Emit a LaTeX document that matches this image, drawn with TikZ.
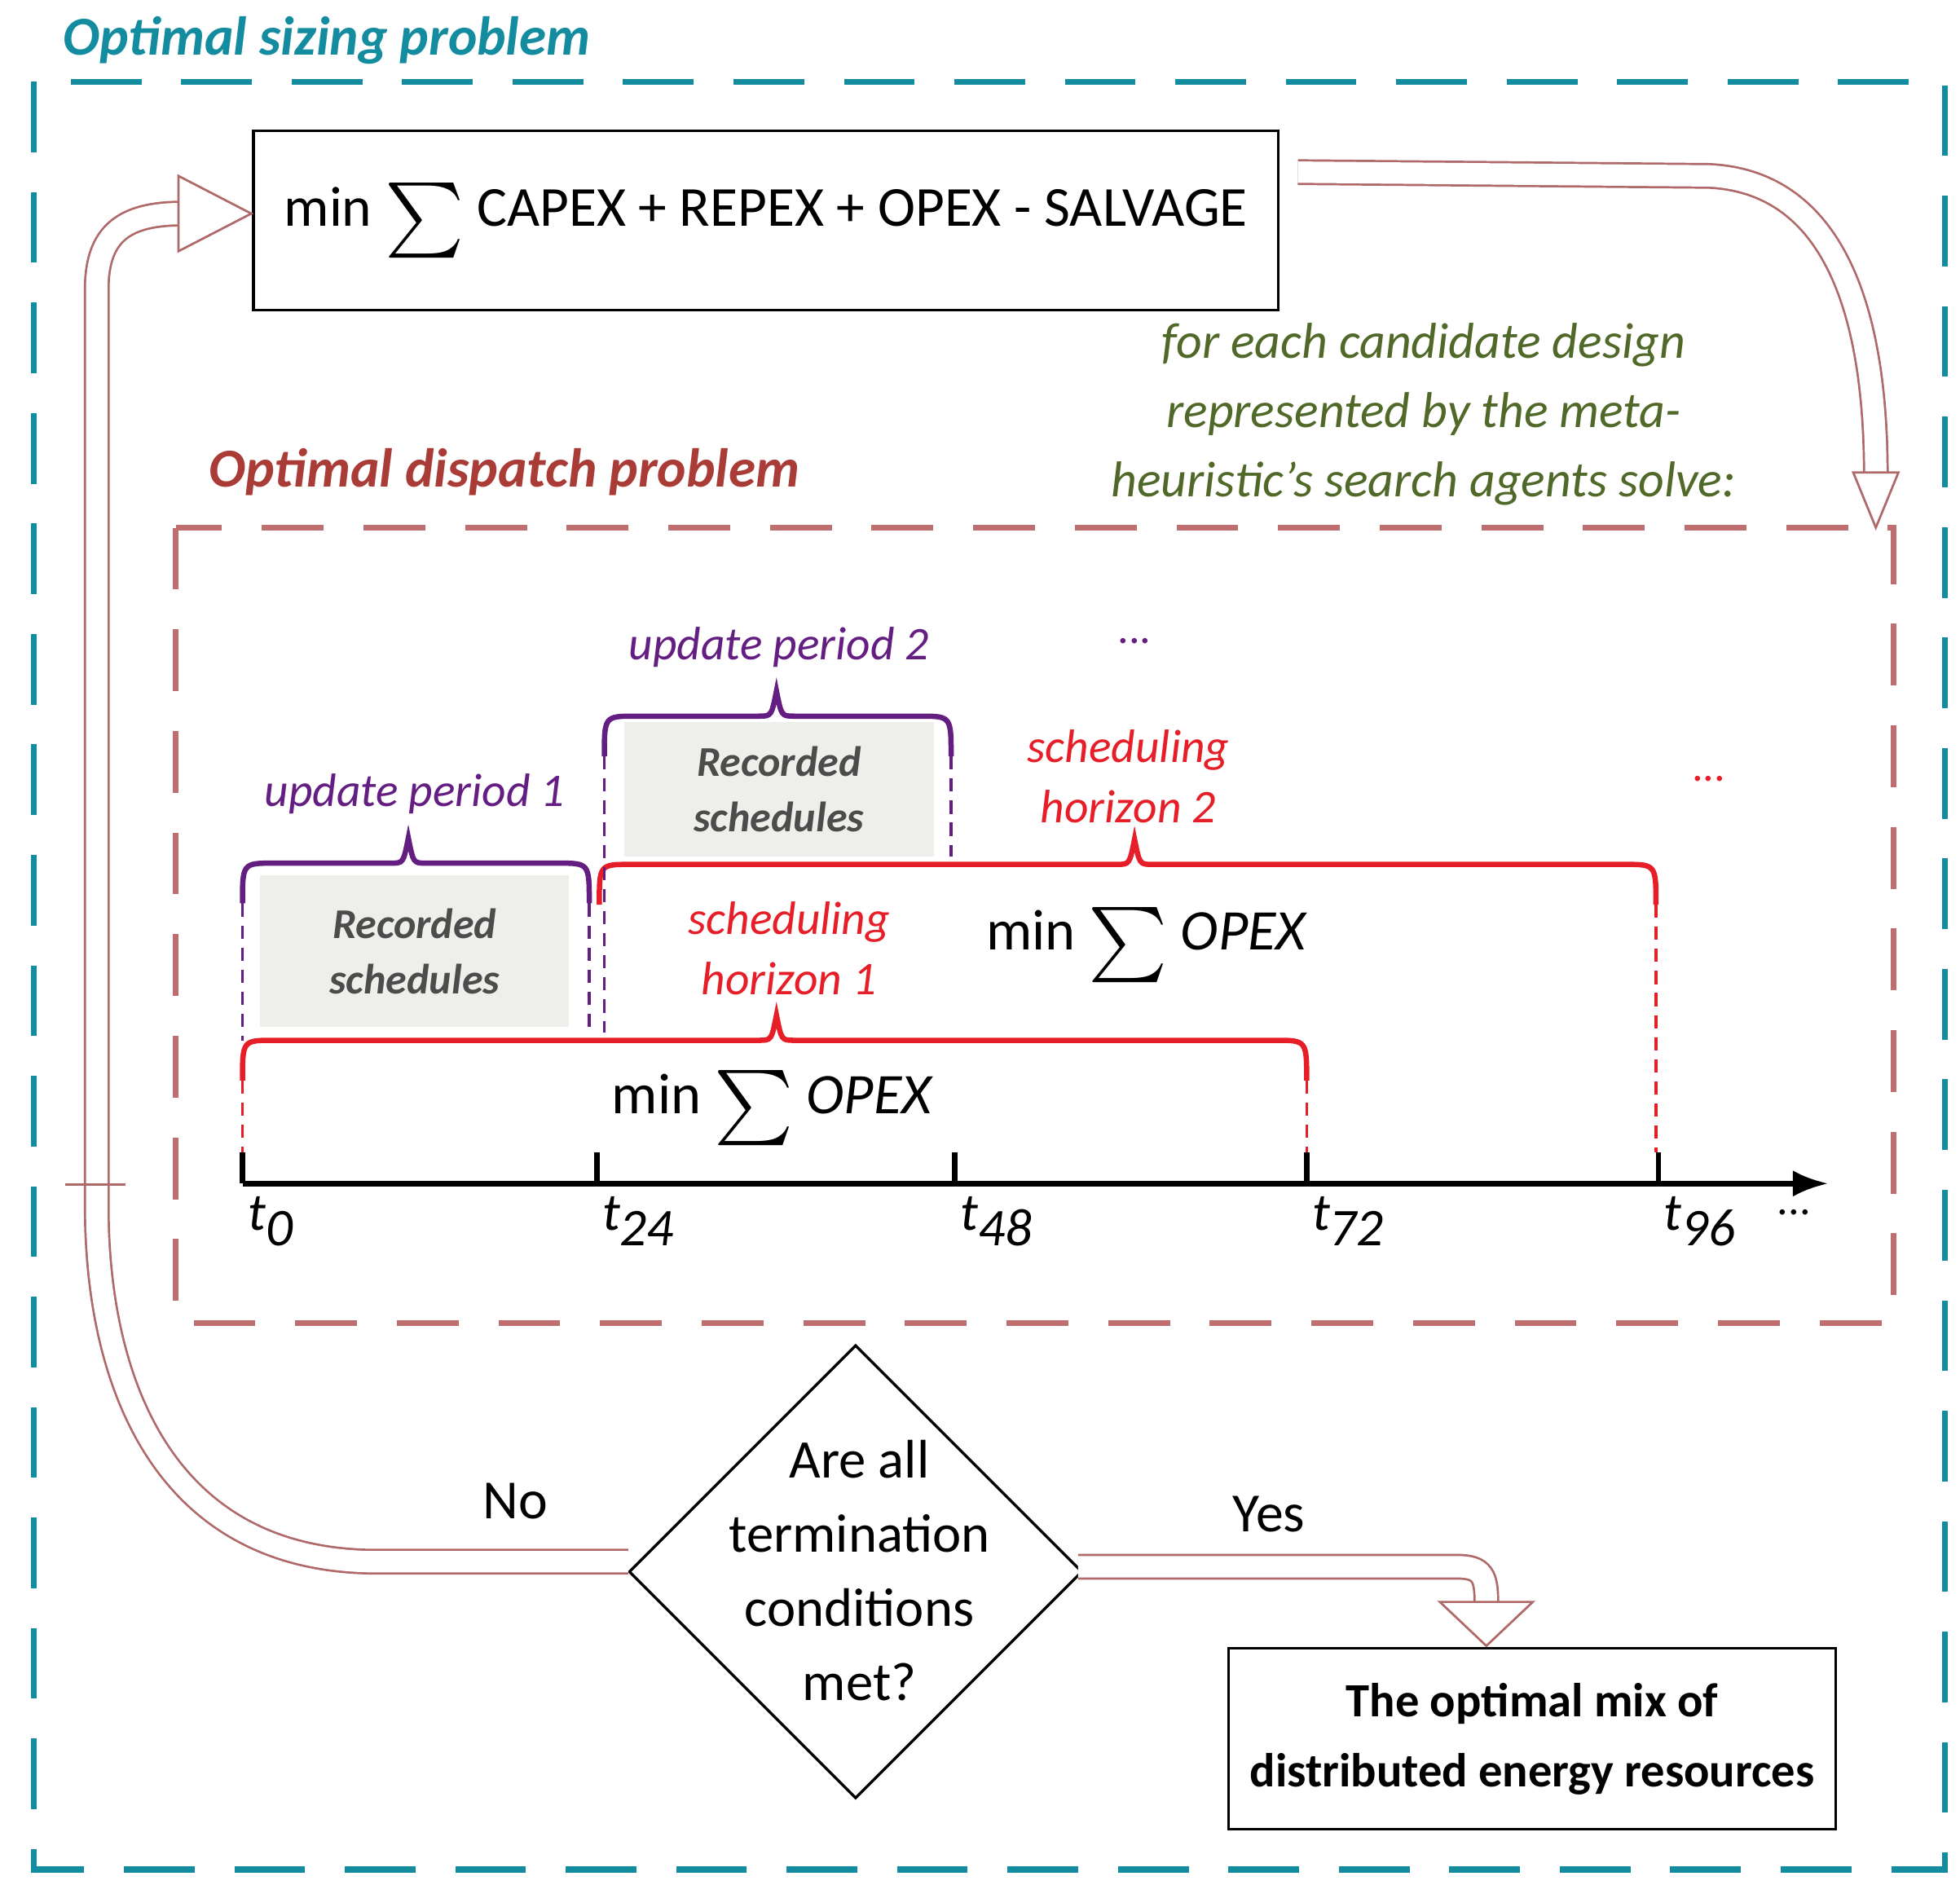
\documentclass[tikz,border=0pt]{standalone}
\usepackage{fontspec}
\setmainfont{Carlito}
\usetikzlibrary{arrows.meta}
\definecolor{teal1}{RGB}{20,140,160}
\definecolor{brn}{RGB}{170,60,55}
\definecolor{dbox}{RGB}{190,110,110}
\definecolor{grn}{RGB}{80,105,40}
\definecolor{pur}{RGB}{100,30,130}
\definecolor{rd}{RGB}{230,30,40}
\definecolor{arr}{RGB}{175,105,105}
\definecolor{gbox}{RGB}{238,238,235}
\newcommand{\bigsig}{\raisebox{-0.3em}{\scalebox{1.7}{$\sum$}}}
\begin{document}
\begin{tikzpicture}[x=0.01cm,y=-0.01cm,
  f/.style={font=\fontsize{#1pt}{\dimexpr#1pt*6/5\relax}\selectfont},
  fbi/.style={font=\fontsize{#1pt}{\dimexpr#1pt*6/5\relax}\selectfont\bfseries\itshape},
  fi/.style={font=\fontsize{#1pt}{\dimexpr#1pt*6/5\relax}\selectfont\itshape},
  fb/.style={font=\fontsize{#1pt}{\dimexpr#1pt*6/5\relax}\selectfont\bfseries},
  hollow/.style={draw=arr,line width=0.5pt,double=white,double distance=0.17cm},
  head/.style={draw=arr,line width=0.5pt,fill=white},
  brace/.style={line width=1.2pt},
  pdash/.style={pur,densely dashed,line width=0.6pt},
  rdash/.style={rd,densely dashed,line width=0.6pt},
  gb/.style={fill=gbox,draw=none,align=center,text=black!70,fbi=9.6}]
\useasboundingbox (0,0) rectangle (1560,1500);
% outer
\node[fbi=12.4,teal1,anchor=west] (t1) at (38,32) {Optimal sizing problem};
\draw[teal1,line width=1.3pt,dash pattern=on 16pt off 9pt] (27,65) rectangle (1548,1488);
\node[draw,line width=0.6pt,minimum width=8.15cm,minimum height=1.43cm,f=12.8] (top) at (609.5,175.5) {min \bigsig\ CAPEX + REPEX + OPEX - SALVAGE};
% arrow to dispatch
\draw[hollow] (1033,137) -- (1360,140) .. controls (1470,145) and (1493,270) .. (1493,378);
\draw[head] (1475,376) -- (1511,376) -- (1493,420) -- cycle;
\node[fi=11.4,grn,align=center] (g) at (1133,330) {for each candidate design\\[2pt]represented by the meta-\\[2pt]heuristic’s search agents solve:};
% dispatch
\node[fbi=12.4,brn,anchor=west] (t2) at (154,376) {Optimal dispatch problem};
\draw[dbox,line width=1.3pt,dash pattern=on 14pt off 9pt] (140,420) rectangle (1507,1053);
% grey boxes
\node[gb,minimum width=2.46cm,minimum height=1.21cm] (r1) at (330,757) {Recorded\\[1pt]schedules};
\node[gb,minimum width=2.46cm,minimum height=1.07cm] (r2) at (620,628) {Recorded\\[1pt]schedules};
% axis
\coordinate (a0) at (193,942); \coordinate (a1) at (1455,942);
\draw[line width=1.2pt,-{Latex[length=8pt]}] (a0) -- (a1);
\foreach \x/\l in {193/0,475/24,760/48,1040/72,1320/96}{
  \draw[line width=1.2pt] (\x,942) -- (\x,917);
  \node[fi=12,anchor=west] at (\x-8,972) {t\raisebox{-0.6ex}{\l}};}
\node[f=10] (d0) at (1428,965) {...};
% red braces
\def\brc#1#2#3#4{ % x1 x2 ybar tipx
  (#1,#3+32) .. controls (#1,#3) .. (#1+25,#3) -- (#4-14,#3) .. controls (#4-4,#3) .. (#4,#3-20) .. controls (#4+4,#3) .. (#4+14,#3) -- (#2-25,#3) .. controls (#2,#3) .. (#2,#3+32)}
\draw[rd,brace] \brc{193}{1040}{828}{618};
\draw[rd,brace] \brc{477}{1318}{688}{903};
\draw[rdash] (193,860) -- (193,917); \draw[rdash] (1040,860) -- (1040,917); \draw[rdash] (1318,720) -- (1318,917);
% purple braces
\draw[pur,brace] \brc{193}{469}{687}{325};
\draw[pur,brace] \brc{481}{757}{570}{618};
\draw[pdash] (193,719) -- (193,828); \draw[pdash] (469,719) -- (469,822);
\draw[pdash] (481,602) -- (481,822); \draw[pdash] (757,602) -- (757,682);
\node[fi=10.6,pur] (u1) at (330,632) {update period 1};
\node[fi=10.6,pur] (u2) at (620,515) {update period 2};
\node[f=10,pur] (d1) at (903,510) {...};
\node[fi=10.6,rd,align=center] (s1) at (628,755) {scheduling\\[1pt]horizon 1};
\node[fi=10.6,rd,align=center] (s2) at (898,618) {scheduling\\[1pt]horizon 2};
\node[f=10,rd] (d2) at (1360,620) {...};
\node[f=13] (m2) at (913,752) {min \bigsig\ \textit{OPEX}};
\node[f=13] (m1) at (615,882) {min \bigsig\ \textit{OPEX}};
% diamond
\draw[line width=0.6pt] (681,1071) -- (861,1251) -- (681,1431) -- (501,1251) -- cycle;
\node[f=12.3,align=center] (q) at (684,1250) {Are all\\[2pt]termination\\[2pt]conditions\\[2pt]met?};
% No arrow
\draw[hollow] (500,1243) -- (300,1243) .. controls (130,1243) and (77,1100) .. (77,960) -- (77,230) .. controls (77,185) and (100,170) .. (145,170);
\draw[arr,line width=0.5pt] (52,943) -- (100,943);
\draw[head] (142,140) -- (200,170) -- (142,200) -- cycle;
\node[f=12.5] (no) at (410,1195) {No};
\node[f=12.5] (yes) at (1010,1205) {Yes};
% Yes arrow
\draw[hollow] (858,1247) -- (1160,1247) .. controls (1180,1247) and (1183,1255) .. (1183,1275);
\draw[head] (1146,1275) -- (1220,1275) -- (1183,1310) -- cycle;
\node[draw,line width=0.6pt,minimum width=4.83cm,minimum height=1.44cm,fb=10.8,align=center] (res) at (1219.5,1384) {The optimal mix of\\[3pt]distributed energy resources};
\end{tikzpicture}
\end{document}
